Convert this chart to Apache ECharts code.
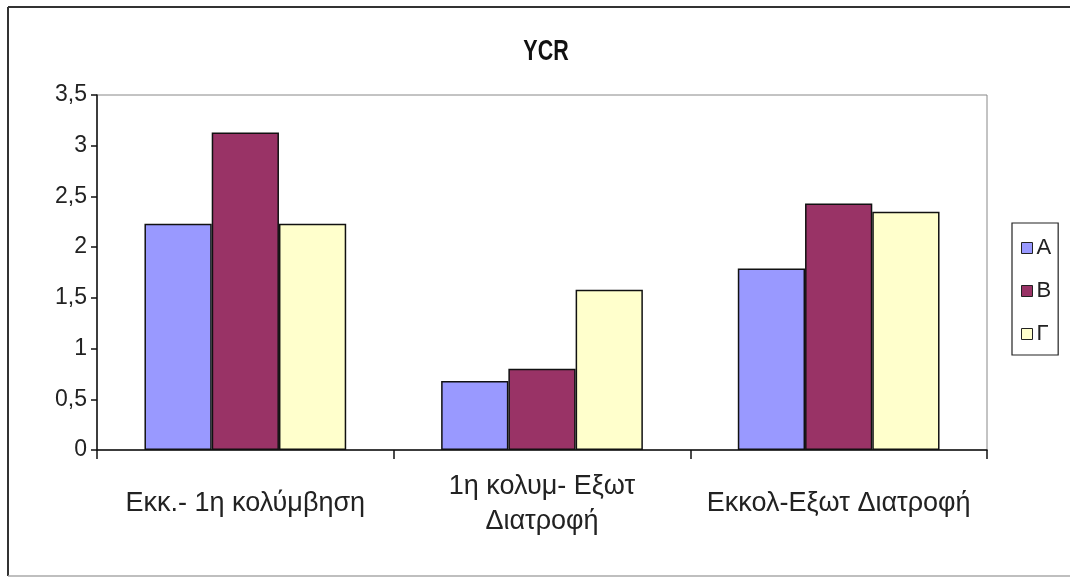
<!DOCTYPE html>
<html>
<head>
<meta charset="utf-8">
<script src="https://cdn.jsdelivr.net/npm/echarts@6/dist/echarts.min.js"></script>
<style>
  html, body { margin: 0; padding: 0; background: #fff; }
  #chart { width: 1070px; height: 583px; }
</style>
</head>
<body>
<div id="chart"></div>
<script>
// Chart data
const categories = ['Εκκ.- 1η κολύμβηση', '1η κολυμ- Εξωτ\nΔιατροφή', 'Εκκολ-Εξωτ Διατροφή'];
const seriesNames = ['A', 'B', 'Γ'];
const valuesA = [2.23, 0.68, 1.79];
const valuesB = [3.13, 0.80, 2.43];
const valuesG = [2.23, 1.58, 2.35];
const yTicks = { min: 0, max: 3.5, interval: 0.5 };

const colors = ['#9999FF', '#993366', '#FFFFCC'];
const labelFont = '"Liberation Sans", Arial, sans-serif';

const chart = echarts.init(document.getElementById('chart'), null, { renderer: 'canvas' });

const makeSeries = (name, data, color) => ({
  name: name,
  type: 'bar',
  data: data,
  barGap: '0%',
  barCategoryGap: '32%',
  itemStyle: { color: color, borderColor: '#111', borderWidth: 1.5 },
  emphasis: { disabled: true }
});

chart.setOption({
  animation: false,
  backgroundColor: '#fff',
  graphic: [
    // outer frame of the chart area
    { type: 'line', shape: { x1: 8, y1: 7, x2: 1070, y2: 7 }, style: { stroke: '#333', lineWidth: 2 } },
    { type: 'line', shape: { x1: 8, y1: 7, x2: 8, y2: 576 }, style: { stroke: '#333', lineWidth: 2 } },
    { type: 'line', shape: { x1: 8, y1: 576, x2: 1070, y2: 576 }, style: { stroke: '#aaa', lineWidth: 1.5 } },
    // condensed bold title
    {
      type: 'text',
      x: 546,
      y: 37,
      scaleX: 0.74,
      style: {
        text: 'YCR',
        font: 'bold 29px "Liberation Sans", Arial, sans-serif',
        fill: '#111',
        textAlign: 'center',
        textVerticalAlign: 'top'
      }
    }
  ],
  legend: {
    orient: 'vertical',
    left: 1012,
    top: 223,
    data: seriesNames,
    itemWidth: 11,
    itemHeight: 11,
    itemGap: 21,
    padding: [14, 7, 10, 9],
    borderColor: '#222',
    borderWidth: 1.2,
    icon: 'rect',
    itemStyle: { borderColor: '#222', borderWidth: 1 },
    textStyle: { fontFamily: labelFont, fontSize: 22, color: '#222', padding: [0, 0, 0, -1] },
    selectedMode: false
  },
  grid: {
    left: 97,
    right: 1070 - 987,
    top: 95,
    bottom: 583 - 450,
    show: true,
    borderColor: '#888',
    borderWidth: 1,
    backgroundColor: '#fff'
  },
  xAxis: {
    type: 'category',
    data: categories,
    boundaryGap: true,
    axisLine: { lineStyle: { color: '#111', width: 1.5 } },
    axisTick: { show: true, alignWithLabel: false, length: 9, lineStyle: { color: '#111', width: 1.5 } },
    axisLabel: {
      fontFamily: labelFont,
      fontSize: 27,
      color: '#222',
      margin: 54,
      lineHeight: 35,
      verticalAlign: 'middle',
      interval: 0
    }
  },
  yAxis: {
    type: 'value',
    min: yTicks.min,
    max: yTicks.max,
    interval: yTicks.interval,
    axisLine: { show: true, lineStyle: { color: '#111', width: 1.5 } },
    axisTick: { show: true, length: 6, lineStyle: { color: '#111', width: 1.5 } },
    splitLine: { show: false },
    axisLabel: {
      fontFamily: labelFont,
      fontSize: 23,
      color: '#222',
      margin: 10,
      formatter: v => String(v).replace('.', ',')
    }
  },
  series: [
    makeSeries(seriesNames[0], valuesA, colors[0]),
    makeSeries(seriesNames[1], valuesB, colors[1]),
    makeSeries(seriesNames[2], valuesG, colors[2])
  ]
});
</script>
</body>
</html>
